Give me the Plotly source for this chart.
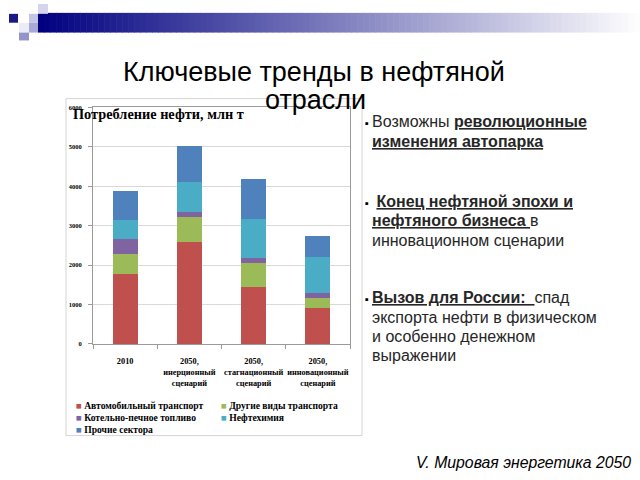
import plotly.graph_objects as go

# ---------------- data ----------------
categories = ["2010", "2050,<br>инерционный<br>сценарий",
              "2050,<br>стагнационный<br>сценарий",
              "2050,<br>инновационный<br>сценарий"]
series_names = ["Автомобильный транспорт", "Другие виды транспорта",
                "Котельно-печное топливо", "Нефтехимия", "Прочие сектора"]
auto_transport = [1780, 2575, 1450, 900]
other_transport = [503, 657, 615, 275]
boiler_fuel = [382, 118, 110, 125]
petrochemistry = [475, 757, 990, 900]
other_sectors = [735, 918, 1017, 550]
series_values = [auto_transport, other_transport, boiler_fuel, petrochemistry, other_sectors]
series_colors = ["#C0504D", "#9BBB59", "#8064A2", "#4BACC6", "#4F81BD"]
y_tick_values = [0, 1000, 2000, 3000, 4000, 5000, 6000]

W, H = 640, 480


def px(x):
    return x / W


def py(y):
    return 1 - y / H


fig = go.Figure()
for name, vals, col in zip(series_names, series_values, series_colors):
    fig.add_trace(go.Bar(x=categories, y=vals, name=name,
                         marker=dict(color=col, line=dict(width=0)),
                         showlegend=False))

serif = "Liberation Serif"
sans = "Liberation Sans"

fig.update_layout(
    width=W, height=H, autosize=False,
    margin=dict(l=0, r=0, t=0, b=0),
    paper_bgcolor="white", plot_bgcolor="white",
    barmode="stack", bargap=0.61,
    xaxis=dict(domain=[px(93), px(350)], showline=True, mirror=True,
               linecolor="#9a9a9a", linewidth=1, ticks="outside",
               tickson="boundaries", ticklen=4, tickcolor="#9a9a9a",
               showgrid=False, ticklabelstandoff=9, tickangle=0,
               tickfont=dict(family=serif, size=8.3, color="#000000", weight="bold")),
    yaxis=dict(domain=[py(345), py(105)], range=[0, 6000],
               tickvals=y_tick_values, ticktext=[str(v) for v in y_tick_values],
               showline=True, mirror=True, linecolor="#9a9a9a", linewidth=1,
               ticks="outside", ticklen=4, tickcolor="#9a9a9a",
               showgrid=True, gridcolor="#d9d9d9", gridwidth=1,
               zeroline=False, ticklabelstandoff=5,
               tickfont=dict(family=serif, size=6.5, color="#000000", weight="bold")),
)

shapes = []
# header gradient bar
x_start, x_end = 38, 640
n = 100
step = (x_end - x_start) / n
for i in range(n):
    t = (i + 0.5) / n
    r = int(0 + 255 * t)
    g = int(0 + 255 * t)
    b = int(128 + 127 * t)
    shapes.append(dict(type="rect", xref="paper", yref="paper",
                       x0=px(x_start + i * step), x1=px(x_start + (i + 1) * step + 0.6),
                       y0=py(29), y1=py(9), line=dict(width=0),
                       fillcolor=f"rgb({r},{g},{b})", layer="below"))
# decorative squares
squares = [
    (9, 10, 18, 19, "#1a1a85"),
    (38, 0, 48, 10, "#d4d4ec"),
    (29, 10, 38, 19, "#c4c4e4"),
    (19, 19, 29, 29, "#ececf6"),
    (29, 19, 38, 29, "#a8a8d6"),
    (19, 29, 29, 37, "#9494c8"),
]
for x0, y0, x1, y1, c in squares:
    shapes.append(dict(type="rect", xref="paper", yref="paper",
                       x0=px(x0), x1=px(x1), y0=py(y1), y1=py(y0),
                       line=dict(width=0), fillcolor=c, layer="below"))
# chart frame
shapes.append(dict(type="rect", xref="paper", yref="paper",
                   x0=px(66), x1=px(362), y0=py(438), y1=py(96),
                   line=dict(color="#d4d4d4", width=1), fillcolor="rgba(0,0,0,0)",
                   layer="below"))
fig.update_layout(shapes=shapes)

ann = []
# main title
ann.append(dict(text="Ключевые тренды в нефтяной", x=px(314), y=py(69),
                xanchor="center", yanchor="middle",
                font=dict(family=sans, size=27, color="#000000")))
ann.append(dict(text="отрасли", x=px(315), y=py(97),
                xanchor="center", yanchor="middle",
                font=dict(family=sans, size=27, color="#000000")))
# chart title
ann.append(dict(text="Потребление нефти, млн т", x=px(71), y=py(112),
                xanchor="left", yanchor="middle",
                font=dict(family=serif, size=14.3, color="#000000", weight="bold")))
# legend (text built from series names and colours)
legend_pos = [(74, 407), (219, 407), (74, 420), (219, 420), (74, 432)]
for name, col, (lx, ly) in zip(series_names, series_colors, legend_pos):
    ann.append(dict(text=f"<span style='color:{col}'>■</span> {name}",
                    x=px(lx), y=py(ly), xanchor="left", yanchor="middle",
                    font=dict(family=serif, size=9.6, color="#000000", weight="bold")))

# right-hand text
tc = "#262626"
nb = "\u00a0"
lines = [
    (119.5, "Возможны <b><u>революционные</u></b>"),
    (140, "<b><u>изменения автопарка</u></b>"),
    (200.5, nb + "<b><u>Конец нефтяной эпохи и</u></b>"),
    (220, "<b><u>нефтяного бизнеса" + nb + "</u></b>в"),
    (239.5, "инновационном сценарии"),
    (298, "<b><u>Вызов для России:" + nb + nb + "</u></b>спад"),
    (318, "экспорта нефти в физическом"),
    (337.5, "и особенно денежном"),
    (357, "выражении"),
]
for ly, t in lines:
    ann.append(dict(text=t, x=px(370), y=py(ly), xanchor="left", yanchor="middle",
                    font=dict(family=sans, size=16, color=tc)))
for by in (121, 201.5, 299):
    ann.append(dict(text="▪", x=px(371), y=py(by), xanchor="right", yanchor="middle",
                    font=dict(family=sans, size=11, color="#000000")))
# footer
ann.append(dict(text="<i>V. Мировая энергетика 2050</i>", x=px(633), y=py(465),
                xanchor="right", yanchor="middle",
                font=dict(family=sans, size=15.8, color="#000000")))

for a in ann:
    a.update(xref="paper", yref="paper", showarrow=False)
fig.update_layout(annotations=ann)

fig.write_html("out.html")
